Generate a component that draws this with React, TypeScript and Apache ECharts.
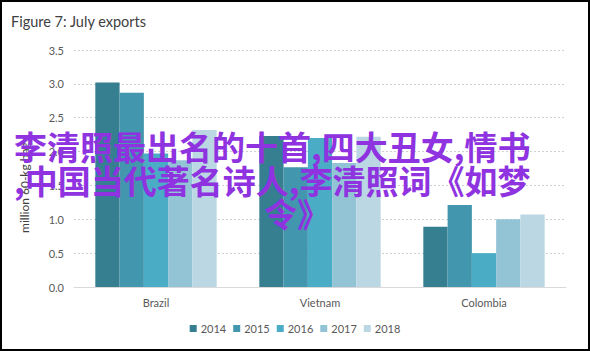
import React, { useEffect, useRef } from "react";
import * as echarts from "echarts";

const categories = ["Brazil", "Vietnam", "Colombia"];
const seriesNames = ["2014", "2015", "2016", "2017", "2018"];
const v2014 = [3.02, 2.23, 0.89];
const v2015 = [2.87, 1.77, 1.21];
const v2016 = [1.97, 2.2, 0.5];
const v2017 = [1.87, 1.83, 1.0];
const v2018 = [2.32, 2.22, 1.07];
const seriesValues = [v2014, v2015, v2016, v2017, v2018];
const colors = ["#367f91", "#4296ad", "#4bacc6", "#93c4d6", "#bad7e3"];
const titleText = "Figure 7: July exports";
const yAxisName = "million 60-kg bags";
const overlayLines = [
  "李清照最出名的十首,四大丑女,情书",
  ",中国当代著名诗人,李清照词《如梦",
  "令》",
];

const FONT = "Lato, 'Noto Sans', sans-serif";
const CJK = "'Noto Sans CJK SC', sans-serif";

export default function App() {
  const ref = useRef<HTMLDivElement>(null);
  useEffect(() => {
    if (!ref.current) return;
    const chart = echarts.init(ref.current, null, { renderer: "svg" });
    const overlayStyle = {
      fontFamily: CJK,
      fontSize: 33,
      fontWeight: "bold",
      fill: "#8f32e0",
      textVerticalAlign: "middle",
    };
    chart.setOption({
      animation: false,
      backgroundColor: "#ffffff",
      title: {
        text: titleText,
        left: 6,
        top: 9,
        textStyle: { fontFamily: FONT, fontSize: 14.5, fontWeight: "normal", color: "#404040" },
      },
      grid: { left: 74, right: 24, top: 50, bottom: 64 },
      legend: {
        bottom: 12,
        left: "center",
        icon: "rect",
        itemWidth: 7,
        itemHeight: 7,
        itemGap: 7,
        textStyle: { fontFamily: FONT, fontSize: 11, color: "#595959", padding: [0, 0, 0, -1] },
        data: seriesNames,
      },
      xAxis: {
        type: "category",
        data: categories,
        axisLine: { lineStyle: { color: "#d9d9d9", width: 1 } },
        axisTick: { show: false },
        axisLabel: { fontFamily: FONT, fontSize: 11, color: "#595959", margin: 10 },
      },
      yAxis: {
        type: "value",
        min: 0,
        max: 3.5,
        interval: 0.5,
        axisLine: { show: false },
        axisTick: { show: false },
        axisLabel: {
          fontFamily: FONT,
          fontSize: 11,
          color: "#595959",
          margin: 10,
          formatter: (v: number) => v.toFixed(1),
        },
        splitLine: { lineStyle: { color: "#d0d0d0", type: [2, 2], width: 1 } },
      },
      series: seriesNames.map((name, i) => ({
        name,
        type: "bar",
        data: seriesValues[i],
        barGap: "0%",
        barCategoryGap: "26%",
        itemStyle: { color: colors[i] },
      })),
      graphic: [
        {
          type: "text",
          rotation: Math.PI / 2,
          x: 24,
          y: 185,
          style: {
            text: yAxisName,
            fontFamily: FONT,
            fontSize: 12,
            fill: "#404040",
            textAlign: "center",
            textVerticalAlign: "middle",
          },
        },
        {
          type: "text",
          x: 14,
          y: 146,
          z: 100,
          style: { ...overlayStyle, text: overlayLines[0], textAlign: "left" },
        },
        {
          type: "text",
          x: 14,
          y: 180,
          z: 100,
          style: { ...overlayStyle, text: overlayLines[1], textAlign: "left" },
        },
        {
          type: "text",
          x: 297,
          y: 213,
          z: 100,
          style: { ...overlayStyle, text: overlayLines[2], textAlign: "center" },
        },
        {
          type: "rect",
          z: 100,
          shape: { x: 1, y: 1, width: 588, height: 349 },
          style: { fill: "none", stroke: "#000000", lineWidth: 2 },
        },
      ],
    });
    return () => chart.dispose();
  }, []);
  return (
    <div
      ref={ref}
      style={{ position: "absolute", left: 0, top: 0, width: 590, height: 351 }}
    />
  );
}
